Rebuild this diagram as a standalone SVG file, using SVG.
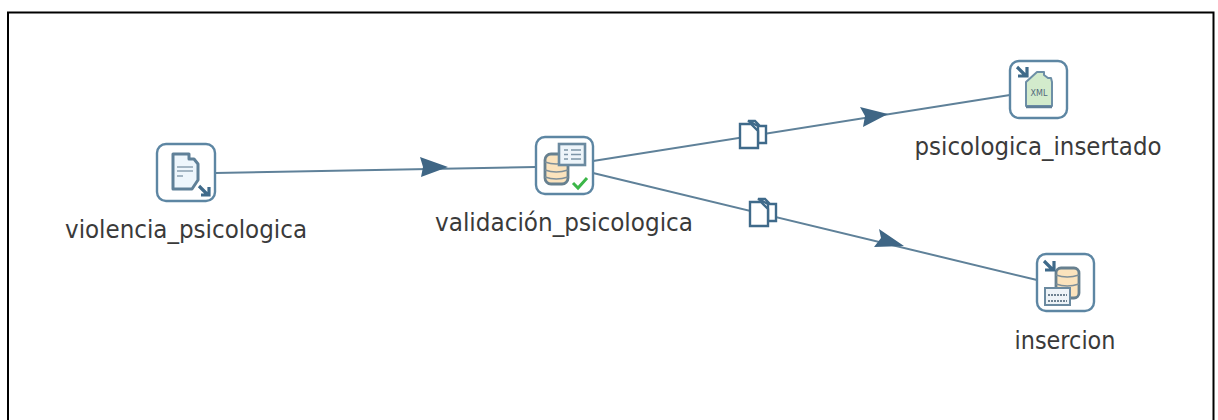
<svg xmlns="http://www.w3.org/2000/svg" width="1218" height="420" viewBox="0 0 1218 420">
<style>
.lbl{font-family:"DejaVu Sans",Verdana,sans-serif;font-size:24px;fill:#3a3a3a;text-anchor:middle}
.box{fill:#fff;stroke:#5d86a3;stroke-width:2.400}
.ln{fill:none;stroke:#5f8199;stroke-width:2}
.ah{fill:#3f6685;stroke:none}
.doc{fill:#fff;stroke:#3f6a8a;stroke-width:2.400}
.ic{stroke:#5f8098;stroke-width:3;stroke-linejoin:round}
.arr{fill:none;stroke:#3f6a8a;stroke-width:3.200}
.db{fill:#fbe3bd;stroke:#67808f;stroke-width:2.800}
.bar{stroke:#7e8f99;stroke-width:1.600;fill:none}
</style>
<defs>
<g id="docs">
<path class="doc" d="M-4 -14H3L8 -9H14V8H6V-9Z"/>
<path class="doc" d="M-12 -11H-1L6 -4V13H-12Z"/>
</g>
</defs>
<rect width="1218" height="420" fill="#fff"/>
<path d="M8 420V12.500H1213.500V420" fill="none" stroke="#000" stroke-width="2"/>
<g id="connectors">
<path class="ln" d="M215 173L536 167"/>
<path class="ah" d="M420 157L448 167L421 177L423 167Z"/>
<path class="ln" d="M593 161L1010 95"/>
<path class="ah" d="M860 107L888 114L863 127L865 116Z"/>
<path class="ln" d="M593 173L1037 280"/>
<path class="ah" d="M879 229L904 246L874 247L881 238Z"/>
<use href="#docs" x="752" y="135"/>
<use href="#docs" x="762" y="213"/>
</g>
<g id="violencia_psicologica">
<rect class="box" x="157" y="144" width="58" height="57" rx="9"/>
<path class="ic" fill="#eef6fc" d="M173 154H189V159H194L198 164V180L192 189H173Z"/>
<path d="M177 167H193M177 171H193M177 176H183" stroke="#a4b6c4" stroke-width="1.800" fill="none"/>
<path class="arr" d="M199 186L208 195M201 195H209V187"/>
<text class="lbl" x="186" y="238" textLength="242" lengthAdjust="spacingAndGlyphs">violencia_psicologica</text>
</g>
<g id="validacion_psicologica">
<rect class="box" x="536" y="137" width="57" height="57" rx="9"/>
<rect class="db" x="545" y="154" width="23" height="30" rx="6"/>
<path class="bar" d="M545 162Q556 166 568 162M545 170Q556 174 568 170M545 177Q556 181 568 177"/>
<rect x="559" y="144" width="26" height="21" fill="#eef5fa" stroke="#6b8aa0" stroke-width="2.600"/>
<path d="M564 150H568M571 150H581M564 154.500H568M571 154.500H581M564 159H568M571 159H581" stroke="#7d95a7" stroke-width="1.600" fill="none"/>
<path d="M573 183L578 188L587 178" fill="none" stroke="#3cb648" stroke-width="3"/>
<text class="lbl" x="564" y="231" textLength="258" lengthAdjust="spacingAndGlyphs">validación_psicologica</text>
</g>
<g id="psicologica_insertado">
<rect class="box" x="1010" y="61" width="57" height="57" rx="9"/>
<path fill="#d3ebcc" stroke="#6d8fa6" stroke-width="2" stroke-linejoin="round" d="M1026 106V82L1037 72H1044V75L1048 78H1051L1052 82V106Z"/>
<path d="M1026 107H1052" stroke="#5f7f98" stroke-width="2.500"/>
<text x="1039" y="96" font-family="DejaVu Sans,sans-serif" font-size="8" fill="#51697b" text-anchor="middle">XML</text>
<path class="arr" d="M1017 67L1026 76M1018 76H1027V67"/>
<text class="lbl" x="1038" y="155" textLength="247" lengthAdjust="spacingAndGlyphs">psicologica_insertado</text>
</g>
<g id="insercion">
<rect class="box" x="1037" y="254" width="57" height="57" rx="9"/>
<rect class="db" x="1056" y="268" width="23" height="30" rx="5"/>
<path class="bar" d="M1056 275Q1067 279 1079 275M1056 284Q1067 288 1079 284"/>
<rect x="1045" y="288" width="25" height="17" fill="#eef3f7" stroke="#6b8aa0" stroke-width="2"/>
<path d="M1048 295H1067M1048 301H1067" stroke="#6f8291" stroke-width="2" stroke-dasharray="2 1" fill="none"/>
<path class="arr" d="M1044 261L1053 270M1045 270H1054V261"/>
<text class="lbl" x="1065" y="349" textLength="101" lengthAdjust="spacingAndGlyphs">insercion</text>
</g>
</svg>
